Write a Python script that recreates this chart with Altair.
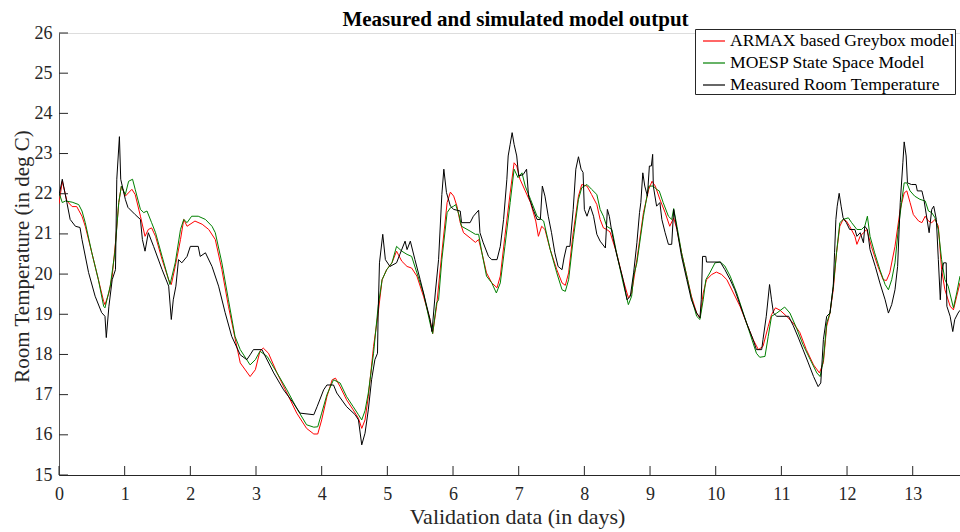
import altair as alt
import pandas as pd

# ---------------- data ----------------
meas_day = [0.00, 0.05, 0.12, 0.17, 0.25, 0.32, 0.35, 0.45, 0.55, 0.65, 0.70, 0.72, 0.76, 0.81, 0.86, 0.88,
            0.92, 0.94, 1.01, 1.05, 1.16, 1.24, 1.27, 1.31, 1.36, 1.44, 1.57, 1.67, 1.71, 1.74, 1.78, 1.82,
            1.87, 1.95, 2.00, 2.12, 2.15, 2.23, 2.33, 2.43, 2.53, 2.63, 2.76, 2.86, 2.91, 2.96, 3.09, 3.27,
            3.42, 3.57, 3.67, 3.88, 3.93, 4.03, 4.08, 4.18, 4.23, 4.38, 4.51, 4.56, 4.61, 4.66, 4.71, 4.76,
            4.81, 4.85, 4.86, 4.88, 4.93, 4.97, 5.04, 5.14, 5.19, 5.27, 5.30, 5.35, 5.42, 5.50, 5.60, 5.65,
            5.68, 5.73, 5.78, 5.83, 5.86, 5.90, 5.96, 6.01, 6.11, 6.13, 6.26, 6.31, 6.39, 6.41, 6.46, 6.54,
            6.59, 6.67, 6.72, 6.77, 6.82, 6.84, 6.87, 6.90, 6.93, 6.97, 7.00, 7.07, 7.12, 7.15, 7.22, 7.28,
            7.33, 7.36, 7.40, 7.45, 7.50, 7.55, 7.60, 7.66, 7.69, 7.73, 7.78, 7.83, 7.87, 7.91, 7.95, 7.98,
            8.00, 8.04, 8.09, 8.14, 8.19, 8.24, 8.32, 8.35, 8.38, 8.42, 8.49, 8.59, 8.65, 8.70, 8.75, 8.80,
            8.84, 8.86, 8.89, 8.92, 8.96, 8.99, 9.02, 9.04, 9.05, 9.10, 9.15, 9.18, 9.23, 9.28, 9.33, 9.36,
            9.41, 9.48, 9.56, 9.63, 9.71, 9.76, 9.78, 9.80, 9.85, 9.86, 10.07, 10.14, 10.22, 10.29, 10.37,
            10.47, 10.57, 10.62, 10.70, 10.72, 10.77, 10.82, 10.85, 10.88, 10.93, 11.11, 11.18, 11.26, 11.33,
            11.41, 11.49, 11.56, 11.60, 11.64, 11.69, 11.74, 11.79, 11.81, 11.83, 11.85, 11.88, 11.91, 11.94,
            11.99, 12.04, 12.12, 12.15, 12.20, 12.25, 12.27, 12.31, 12.35, 12.43, 12.50, 12.58, 12.63, 12.68,
            12.73, 12.77, 12.81, 12.85, 12.87, 12.90, 12.92, 12.98, 13.05, 13.07, 13.14, 13.17, 13.25, 13.29,
            13.32, 13.36, 13.39, 13.42, 13.44, 13.47, 13.51, 13.52, 13.57, 13.61, 13.64, 13.69, 13.72]
meas_temp = [21.95, 22.36, 21.78, 21.36, 21.19, 21.16, 20.86, 20.04, 19.45, 19.04, 18.95, 18.42, 19.20, 19.86,
             20.11, 22.36, 23.42, 22.36, 21.86, 21.66, 21.48, 21.36, 20.86, 20.57, 21.03, 20.69, 20.11, 19.70,
             18.87, 19.36, 19.70, 20.36, 20.28, 20.44, 20.69, 20.69, 20.44, 20.53, 20.19, 19.70, 19.04, 18.45,
             17.99, 17.87, 17.99, 18.12, 18.12, 17.54, 17.12, 16.79, 16.54, 16.50, 16.70, 17.12, 17.24, 17.24,
             17.04, 16.70, 16.50, 16.37, 15.75, 16.04, 16.62, 17.37, 17.87, 18.03, 19.03, 20.28, 20.99, 20.36,
             20.19, 20.28, 20.49, 20.82, 20.61, 20.82, 20.36, 19.86, 19.20, 18.87, 18.57, 19.53, 20.36, 21.98,
             22.61, 22.03, 21.69, 21.61, 21.57, 21.28, 21.28, 21.44, 21.59, 21.03, 20.78, 20.44, 20.36, 20.36,
             20.69, 21.36, 22.36, 22.94, 23.23, 23.52, 23.23, 22.94, 22.44, 22.48, 22.61, 21.94, 21.61, 21.36,
             21.36, 22.19, 21.94, 21.44, 21.03, 20.53, 20.19, 20.11, 20.40, 20.69, 20.69, 21.61, 22.61, 22.92,
             22.61, 22.53, 21.61, 21.44, 21.69, 21.44, 20.99, 20.82, 20.65, 21.61, 21.44, 21.03, 20.50, 19.86,
             19.36, 19.45, 20.03, 20.78, 21.53, 21.78, 22.52, 22.19, 21.94, 22.69, 22.69, 22.98, 22.19, 21.69,
             21.78, 21.36, 21.03, 20.74, 20.74, 21.61, 21.11, 20.44, 19.86, 19.36, 19.03, 18.91, 19.36, 20.44,
             20.44, 20.30, 20.30, 20.11, 19.86, 19.61, 19.24, 18.78, 18.37, 18.12, 18.12, 18.37, 18.95, 19.74,
             19.36, 19.03, 18.95, 18.95, 18.72, 18.41, 18.12, 17.79, 17.45, 17.20, 17.29, 18.37, 18.95, 19.03,
             19.70, 20.53, 21.36, 21.69, 22.01, 21.69, 21.40, 21.28, 21.11, 21.11, 20.94, 21.03, 20.78, 21.19,
             21.11, 20.61, 20.19, 19.78, 19.36, 19.03, 19.24, 19.61, 20.19, 21.78, 22.77, 23.29, 22.94, 22.27,
             22.23, 22.23, 22.07, 22.07, 21.86, 21.03, 21.61, 21.69, 21.36, 20.36, 19.36, 20.03, 20.28, 20.28,
             19.20, 18.95, 18.57, 18.87, 19.03, 19.10]

armax_day = [0.00, 0.05, 0.12, 0.20, 0.27, 0.35, 0.40, 0.50, 0.60, 0.68, 0.70, 0.76, 0.81, 0.86, 0.91, 0.95,
             1.01, 1.11, 1.16, 1.24, 1.31, 1.36, 1.41, 1.47, 1.57, 1.67, 1.71, 1.77, 1.85, 1.90, 1.95, 2.07,
             2.18, 2.28, 2.38, 2.48, 2.58, 2.68, 2.76, 2.91, 2.99, 3.06, 3.11, 3.19, 3.32, 3.47, 3.62, 3.77,
             3.88, 3.94, 4.00, 4.08, 4.16, 4.21, 4.28, 4.38, 4.48, 4.56, 4.61, 4.66, 4.71, 4.79, 4.86, 4.92,
             4.99, 5.07, 5.14, 5.22, 5.30, 5.37, 5.45, 5.55, 5.65, 5.69, 5.75, 5.83, 5.91, 5.96, 6.01, 6.06,
             6.11, 6.16, 6.26, 6.34, 6.39, 6.44, 6.51, 6.59, 6.67, 6.72, 6.79, 6.87, 6.93, 6.97, 7.02, 7.10,
             7.18, 7.26, 7.30, 7.35, 7.40, 7.48, 7.58, 7.66, 7.71, 7.76, 7.83, 7.91, 7.96, 8.04, 8.11, 8.19,
             8.24, 8.29, 8.34, 8.39, 8.49, 8.59, 8.67, 8.72, 8.80, 8.90, 8.98, 9.03, 9.08, 9.15, 9.23, 9.30,
             9.36, 9.41, 9.48, 9.56, 9.63, 9.71, 9.76, 9.81, 9.86, 9.94, 10.01, 10.09, 10.17, 10.27, 10.37,
             10.47, 10.57, 10.65, 10.72, 10.80, 10.85, 10.91, 10.98, 11.08, 11.18, 11.28, 11.38, 11.49, 11.58,
             11.64, 11.69, 11.74, 11.79, 11.84, 11.89, 11.94, 11.99, 12.04, 12.12, 12.15, 12.20, 12.25, 12.30,
             12.37, 12.47, 12.55, 12.60, 12.65, 12.73, 12.81, 12.87, 12.91, 12.96, 13.01, 13.09, 13.14, 13.19,
             13.24, 13.29, 13.34, 13.39, 13.44, 13.49, 13.57, 13.62, 13.67, 13.72]
armax_temp = [21.75, 22.31, 21.82, 21.68, 21.68, 21.44, 21.19, 20.53, 19.86, 19.32, 19.24, 19.53, 19.95, 20.78,
              21.78, 22.19, 21.94, 22.11, 21.98, 21.44, 20.94, 21.11, 21.15, 20.94, 20.36, 19.86, 19.74, 20.19,
              20.86, 21.36, 21.19, 21.32, 21.24, 21.11, 20.86, 20.11, 19.20, 18.41, 17.79, 17.45, 17.62, 18.08,
              18.16, 18.03, 17.54, 17.04, 16.54, 16.16, 16.02, 16.02, 16.37, 16.95, 17.37, 17.41, 17.20, 16.87,
              16.62, 16.41, 16.16, 16.37, 16.95, 18.20, 19.03, 19.86, 20.11, 20.28, 20.57, 20.32, 20.19, 20.15,
              19.95, 19.45, 18.87, 18.52, 19.20, 20.53, 21.78, 22.04, 21.94, 21.69, 21.28, 21.03, 20.90, 20.79,
              20.86, 20.53, 20.03, 19.78, 19.66, 19.95, 20.94, 22.02, 22.77, 22.69, 22.36, 22.07, 21.78, 21.32,
              20.94, 21.19, 21.11, 20.61, 20.11, 19.78, 19.72, 20.03, 21.03, 21.94, 22.23, 22.19, 21.98, 21.73,
              21.36, 21.15, 21.11, 21.05, 20.53, 19.86, 19.41, 19.53, 20.36, 21.53, 22.11, 22.31, 22.19, 21.86,
              21.53, 21.19, 21.40, 21.11, 20.53, 19.95, 19.45, 19.03, 18.91, 19.53, 19.86, 19.99, 20.05, 19.99,
              19.86, 19.53, 19.20, 18.78, 18.37, 18.12, 18.20, 18.70, 18.99, 19.16, 19.10, 18.95, 18.78, 18.55,
              18.12, 17.74, 17.54, 17.80, 18.70, 19.03, 19.61, 20.53, 21.19, 21.36, 21.32, 21.19, 20.94, 20.74,
              20.94, 21.03, 21.11, 20.69, 20.19, 19.86, 19.84, 20.03, 20.69, 21.61, 22.02, 22.07, 21.78, 21.48,
              21.32, 21.28, 21.44, 21.32, 21.28, 21.36, 21.19, 20.11, 19.61, 19.20, 19.11, 19.45, 19.78]

moesp_day = [0.00, 0.05, 0.10, 0.20, 0.30, 0.35, 0.40, 0.50, 0.60, 0.68, 0.70, 0.78, 0.85, 0.91, 0.95, 1.01,
             1.06, 1.12, 1.16, 1.24, 1.29, 1.34, 1.41, 1.47, 1.57, 1.69, 1.77, 1.85, 1.90, 1.95, 2.02, 2.12,
             2.23, 2.33, 2.38, 2.48, 2.58, 2.68, 2.76, 2.91, 2.99, 3.06, 3.17, 3.32, 3.47, 3.62, 3.77, 3.88,
             3.94, 4.00, 4.08, 4.18, 4.28, 4.38, 4.48, 4.56, 4.61, 4.66, 4.71, 4.79, 4.86, 4.92, 4.99, 5.07,
             5.14, 5.22, 5.30, 5.37, 5.45, 5.55, 5.65, 5.69, 5.75, 5.78, 5.83, 5.91, 5.96, 6.01, 6.04, 6.09,
             6.13, 6.26, 6.34, 6.39, 6.44, 6.51, 6.59, 6.66, 6.72, 6.79, 6.87, 6.93, 6.99, 7.05, 7.10, 7.18,
             7.28, 7.38, 7.48, 7.58, 7.66, 7.71, 7.76, 7.83, 7.91, 7.96, 8.04, 8.11, 8.19, 8.24, 8.29, 8.34,
             8.42, 8.49, 8.59, 8.67, 8.72, 8.75, 8.80, 8.90, 8.98, 9.05, 9.10, 9.14, 9.20, 9.28, 9.33, 9.36,
             9.41, 9.48, 9.56, 9.63, 9.71, 9.76, 9.81, 9.85, 9.91, 9.99, 10.07, 10.14, 10.22, 10.32, 10.42,
             10.52, 10.62, 10.67, 10.75, 10.80, 10.85, 10.93, 11.05, 11.13, 11.23, 11.33, 11.44, 11.54, 11.59,
             11.64, 11.69, 11.74, 11.79, 11.84, 11.89, 11.94, 12.02, 12.07, 12.15, 12.22, 12.27, 12.31, 12.35,
             12.42, 12.50, 12.58, 12.63, 12.68, 12.73, 12.78, 12.83, 12.87, 12.91, 12.96, 13.03, 13.11, 13.19,
             13.24, 13.29, 13.34, 13.39, 13.44, 13.49, 13.54, 13.62, 13.67, 13.72]
moesp_temp = [22.03, 21.78, 21.82, 21.79, 21.73, 21.57, 21.28, 20.53, 19.86, 19.20, 19.16, 19.70, 20.53, 21.78,
              22.19, 21.98, 22.31, 22.36, 22.11, 21.61, 21.53, 21.57, 21.28, 21.03, 20.44, 19.74, 20.28, 21.11,
              21.36, 21.28, 21.44, 21.44, 21.36, 21.19, 21.03, 20.28, 19.36, 18.45, 18.12, 17.74, 17.87, 18.08,
              17.95, 17.54, 17.12, 16.66, 16.25, 16.19, 16.20, 16.54, 17.00, 17.37, 17.29, 16.95, 16.70, 16.50,
              16.37, 16.60, 17.04, 18.03, 19.20, 19.86, 20.11, 20.28, 20.69, 20.57, 20.49, 20.44, 20.03, 19.53,
              18.78, 18.52, 19.28, 19.36, 20.36, 21.53, 21.65, 21.69, 21.73, 21.48, 21.19, 21.07, 20.99, 20.99,
              20.53, 19.95, 19.78, 19.53, 19.78, 20.69, 21.78, 22.61, 22.40, 22.52, 22.19, 21.86, 21.44, 21.32,
              20.61, 20.03, 19.61, 19.57, 19.86, 20.86, 21.86, 22.15, 22.23, 22.11, 21.98, 21.61, 21.44, 21.19,
              21.11, 20.53, 19.78, 19.24, 19.45, 19.95, 20.28, 21.44, 22.19, 22.19, 22.11, 22.07, 21.78, 21.44,
              21.36, 21.63, 21.19, 20.53, 19.95, 19.41, 18.95, 18.87, 19.36, 19.86, 20.03, 20.28, 20.30, 20.20,
              19.95, 19.53, 19.03, 18.53, 18.03, 17.93, 17.95, 18.45, 18.95, 19.03, 19.18, 19.03, 18.66, 18.24,
              17.87, 17.54, 17.45, 17.87, 18.78, 19.03, 19.70, 20.53, 21.28, 21.36, 21.40, 21.28, 21.11, 21.11,
              21.19, 21.44, 20.94, 20.53, 20.11, 19.74, 19.61, 19.86, 20.28, 21.11, 21.78, 22.27, 22.27, 22.07,
              21.94, 21.86, 21.82, 21.57, 21.53, 21.40, 21.11, 20.36, 19.86, 19.70, 19.16, 19.53, 19.95]

series_names = ["ARMAX based Greybox model", "MOESP State Space Model", "Measured Room Temperature"]
series_colors = ["#ff0000", "#008000", "#000000"]
x_ticks = list(range(0, 14))
y_ticks = list(range(15, 27))

# ---------------- build table ----------------
df = pd.concat([
    pd.DataFrame({"day": armax_day, "temp": armax_temp, "series": series_names[0]}),
    pd.DataFrame({"day": moesp_day, "temp": moesp_temp, "series": series_names[1]}),
    pd.DataFrame({"day": meas_day, "temp": meas_temp, "series": series_names[2]}),
], ignore_index=True)

FONT = "Liberation Serif"
AX = "#262626"
W, H = 901, 442
XT = "Validation data (in days)"
YT = "Room Temperature (in deg C)"

xs = alt.Scale(domain=[0, 13.72], nice=False, zero=False)
ys = alt.Scale(domain=[15, 26], nice=False, zero=False)

x_axis = alt.Axis(values=x_ticks, format="d", ticks=False, grid=False, labelFont=FONT, labelFontSize=18,
                  labelColor=AX, labelPadding=10, domainColor=AX, domainWidth=1,
                  title=XT, titleFont=FONT, titleFontSize=22,
                  titleFontWeight="normal", titleColor=AX, titleX=458, titleY=48,
                  titleBaseline="alphabetic", titleAlign="center", labelFlush=False)
y_axis = alt.Axis(values=y_ticks, format="d", ticks=False, grid=False, labelFont=FONT, labelFontSize=18,
                  labelColor=AX, labelPadding=7, domainColor="#555555", domainWidth=1,
                  title=YT, titleFont=FONT, titleFontSize=21,
                  titleFontWeight="normal", titleColor=AX, titleAngle=270, titleX=-31, titleY=223,
                  titleBaseline="alphabetic", titleAlign="center", labelFlush=False)

color = alt.Color("series:N", title=None,
                  scale=alt.Scale(domain=series_names, range=series_colors),
                  legend=alt.Legend(orient="none", legendX=636, legendY=-4, labelFont=FONT,
                                    labelFontSize=17.6, labelColor="black", labelLimit=400,
                                    symbolType="stroke", symbolSize=484, symbolStrokeWidth=1.2,
                                    strokeColor=AX, fillColor="white", padding=0, rowPadding=1,
                                    labelOffset=4, symbolOffset=7))

layers = []
for i, name in enumerate(series_names):
    enc = dict(
        x=alt.X("day:Q", scale=xs, axis=x_axis if i == 0 else alt.Axis(title=XT)),
        y=alt.Y("temp:Q", scale=ys, axis=y_axis if i == 0 else alt.Axis(title=YT)),
        color=color,
    )
    layers.append(
        alt.Chart(df).transform_filter(alt.datum.series == name)
        .mark_line(strokeWidth=1, clip=True).encode(**enc)
    )

xt = alt.Chart(pd.DataFrame({"day": x_ticks})).mark_rule(color=AX, strokeWidth=1).encode(
    x=alt.X("day:Q", scale=xs, axis=alt.Axis(title=XT)),
    y=alt.value(H), y2=alt.value(H - 9))
yt = alt.Chart(pd.DataFrame({"temp": y_ticks})).mark_rule(color=AX, strokeWidth=1).encode(
    y=alt.Y("temp:Q", scale=ys, axis=alt.Axis(title=YT)),
    x=alt.value(0), x2=alt.value(9))

chart = alt.layer(*layers, xt, yt).properties(
    width=W, height=H,
    autosize=alt.AutoSizeParams(type="none"),
    padding={"left": 59, "top": 33, "right": 0, "bottom": 57},
    title=alt.TitleParams("Measured and simulated model output", font=FONT, fontSize=21,
                          fontWeight="bold", color="black", anchor="middle", dx=6, dy=10, offset=4),
).configure_view(stroke=None).configure(background="white")

chart.save("out.html", embed_options={"renderer": "svg", "actions": False})
